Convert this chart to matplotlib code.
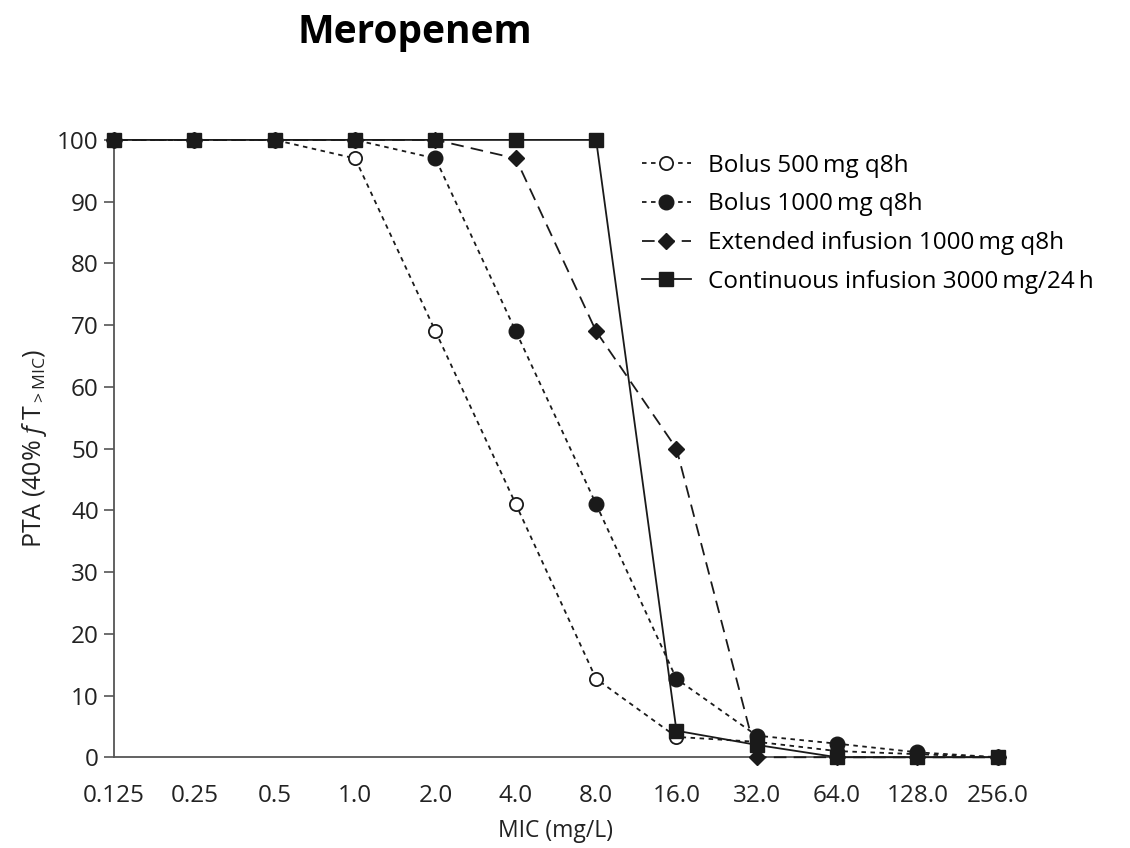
import matplotlib
matplotlib.use("Agg")
import matplotlib.pyplot as plt

plt.rcParams['font.family'] = ['Open Sans', 'DejaVu Sans']
plt.rcParams['mathtext.fontset'] = 'custom'
plt.rcParams['mathtext.rm'] = 'Open Sans'
plt.rcParams['mathtext.it'] = 'Open Sans:italic'

mic_labels = ["0.125", "0.25", "0.5", "1.0", "2.0", "4.0", "8.0",
              "16.0", "32.0", "64.0", "128.0", "256.0"]

bolus_500 = [100, 100, 100, 97, 69, 41, 12.7, 3.3, 2.5, 1.0, 0.5, 0]
bolus_1000 = [100, 100, 100, 100, 97, 69, 41, 12.7, 3.5, 2.2, 0.8, 0]
extended_1000 = [100, 100, 100, 100, 100, 97, 69, 50, 0, 0, 0, 0]
continuous_3000 = [100, 100, 100, 100, 100, 100, 100, 4.3, 2.0, 0, 0, 0]

x = list(range(len(mic_labels)))
ink = "#1a1a1a"
txt = "#222222"

fig = plt.figure(figsize=(11.3, 8.48), dpi=100)
ax = fig.add_axes([0.101, 0.107, 0.782, 0.728])

ax.plot(x, bolus_500, linestyle=(0, (2.5, 2.5)), color=ink, lw=1.3,
        marker="o", markersize=9.5, markerfacecolor="white", markeredgecolor=ink,
        markeredgewidth=1.3, label="Bolus 500\u2009mg q8h", clip_on=False, zorder=3)
ax.plot(x, bolus_1000, linestyle=(0, (2.5, 2.5)), color=ink, lw=1.3,
        marker="o", markersize=10.5, label="Bolus 1000\u2009mg q8h",
        clip_on=False, zorder=4)
ax.plot(x, extended_1000, linestyle=(0, (7, 4)), color=ink, lw=1.3,
        marker="D", markersize=8.5, label="Extended infusion 1000\u2009mg q8h",
        clip_on=False, zorder=4)
ax.plot(x, continuous_3000, linestyle="-", color=ink, lw=1.3,
        marker="s", markersize=10.5, label="Continuous infusion 3000\u2009mg/24\u2009h",
        clip_on=False, zorder=5)

ax.set_xlim(0, 11)
ax.set_ylim(0, 100)
ax.set_xticks(x)
ax.set_xticklabels(mic_labels)
ax.set_yticks(range(0, 101, 10))
ax.tick_params(axis="x", length=0, pad=19, labelsize=17.5, colors=txt)
ax.tick_params(axis="y", length=7, width=1.2, color="#555555", labelsize=17.5,
               labelcolor=txt, pad=4)

for side in ["top", "right"]:
    ax.spines[side].set_visible(False)
for side in ["left", "bottom"]:
    ax.spines[side].set_color("#555555")
    ax.spines[side].set_linewidth(1.3)

ax.set_xlabel("MIC (mg/L)", fontsize=16.5, color=txt, labelpad=8)
ax.set_ylabel(r"PTA (40% $\mathit{f}$ T$_{>\mathrm{MIC}}$)", fontsize=18,
              color=txt, labelpad=6)

ax.legend(loc="upper left", bbox_to_anchor=(0.578, 1.005), frameon=False,
          fontsize=17.5, handlelength=2.0, labelspacing=0.6, handletextpad=0.7,
          borderaxespad=0.3)

fig.text(0.367, 0.962, "Meropenem", fontsize=28, fontweight="bold",
         ha="center", va="center", color="black")

fig.savefig("out.png", dpi=100)
